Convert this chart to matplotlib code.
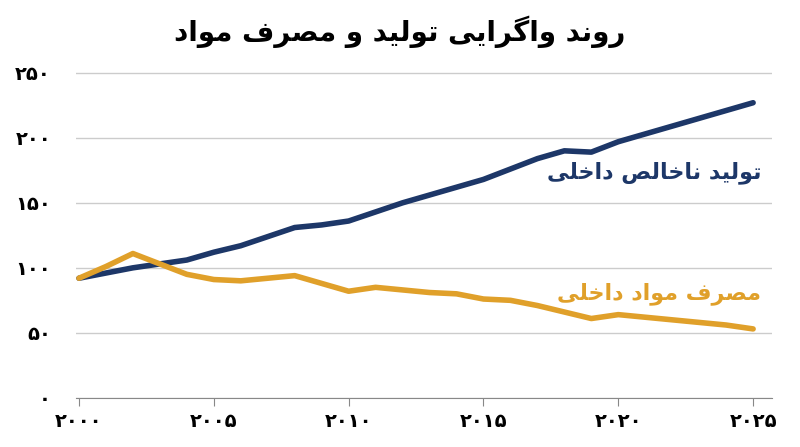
import matplotlib
matplotlib.use("Agg")
import matplotlib.pyplot as plt

years = list(range(2000, 2026))
gdp = [92, 96, 100, 103, 106, 112, 117, 124, 131, 133, 136, 143, 150, 156, 162, 168,
       176, 184, 190, 189, 197, 203, 209, 215, 221, 227]
dmc = [92, 101, 111, 103, 95, 91, 90, 92, 94, 88, 82, 85, 83, 81, 80, 76,
       75, 71, 66, 61, 64, 62, 60, 58, 56, 53]
yticks = [0, 50, 100, 150, 200, 250]
xticks = [2000, 2005, 2010, 2015, 2020, 2025]
title = "روند واگرایی تولید و مصرف مواد"
lab_gdp = "تولید ناخالص داخلی"
lab_dmc = "مصرف مواد داخلی"

FORMS = {  # iso, fin, ini, med
    'ا': ('\uFE8D', '\uFE8E'), 'د': ('\uFEA9', '\uFEAA'), 'ر': ('\uFEAD', '\uFEAE'),
    'و': ('\uFEED', '\uFEEE'),
    'ن': ('\uFEE5', '\uFEE6', '\uFEE7', '\uFEE8'), 'ت': ('\uFE95', '\uFE96', '\uFE97', '\uFE98'),
    'ل': ('\uFEDD', '\uFEDE', '\uFEDF', '\uFEE0'), 'م': ('\uFEE1', '\uFEE2', '\uFEE3', '\uFEE4'),
    'ص': ('\uFEB9', '\uFEBA', '\uFEBB', '\uFEBC'), 'ف': ('\uFED1', '\uFED2', '\uFED3', '\uFED4'),
    'خ': ('\uFEA5', '\uFEA6', '\uFEA7', '\uFEA8'), 'ی': ('\uFBFC', '\uFBFD', '\uFBFE', '\uFBFF'),
    'گ': ('\uFB92', '\uFB93', '\uFB94', '\uFB95'),
}

def shape(s):
    out = []
    for i, c in enumerate(s):
        if c not in FORMS:
            out.append(c); continue
        prev = s[i-1] if i > 0 else ' '
        nxt = s[i+1] if i + 1 < len(s) else ' '
        jp = prev in FORMS and len(FORMS[prev]) == 4
        jn = len(FORMS[c]) == 4 and nxt in FORMS
        f = FORMS[c]
        if jp and jn: out.append(f[3])
        elif jp: out.append(f[1])
        elif jn: out.append(f[2])
        else: out.append(f[0])
    return ''.join(out)[::-1]

def fa_digits(n):
    return str(n).translate(str.maketrans('0123456789', '۰۱۲۳۴۵۶۷۸۹'))

plt.rcParams['font.family'] = ['DejaVu Sans']
fig, ax = plt.subplots(figsize=(8, 4.47), dpi=100)
fig.subplots_adjust(left=0.095, right=0.965, top=0.84, bottom=0.11)
blue = '#1d3768'
orange = '#e0a02a'
ax.plot(years, gdp, color=blue, lw=4, solid_capstyle='round')
ax.plot(years, dmc, color=orange, lw=4, solid_capstyle='round')
ax.set_ylim(0, 251)
ax.set_xlim(1999.89, 2025.7)
ax.set_yticks(yticks)
ax.set_yticklabels([fa_digits(v) for v in yticks], fontsize=14, fontweight='bold')
ax.set_xticks(xticks)
ax.set_xticklabels([fa_digits(v) for v in xticks], fontsize=14, fontweight='bold')
ax.grid(axis='y', color='#cccccc', lw=1)
for s in ['top', 'right', 'left']:
    ax.spines[s].set_visible(False)
ax.spines['bottom'].set_color('#888888')
ax.tick_params(axis='y', length=0, pad=18)
ax.tick_params(axis='x', length=6, color='#888888', pad=4)
ax.text(2025.3, 173, shape(lab_gdp), color=blue, fontsize=16, fontweight='bold', ha='right', va='center')
ax.text(2025.3, 80, shape(lab_dmc), color=orange, fontsize=16, fontweight='bold', ha='right', va='center')
fig.text(0.5, 0.93, shape(title), fontsize=20, fontweight='bold', ha='center', va='center')
fig.savefig('out.png', dpi=100)
